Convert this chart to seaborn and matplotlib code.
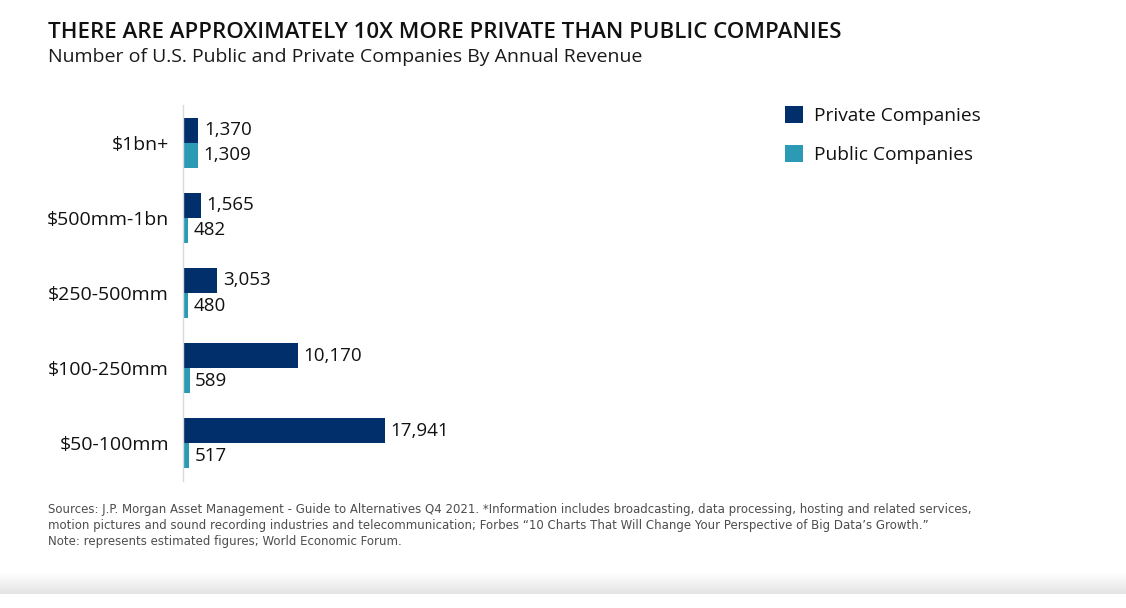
import numpy as np
import pandas as pd
import matplotlib
matplotlib.use("Agg")
import matplotlib.pyplot as plt
from matplotlib.patches import Patch
import seaborn as sns

categories = ['$1bn+', '$500mm-1bn', '$250-500mm', '$100-250mm', '$50-100mm']
private = [1370, 1565, 3053, 10170, 17941]
public = [1309, 482, 480, 589, 517]
series_names = ['Private Companies', 'Public Companies']
colors = ['#002F6C', '#2B9BB5']

title = "THERE ARE APPROXIMATELY 10X MORE PRIVATE THAN PUBLIC COMPANIES"
subtitle = "Number of U.S. Public and Private Companies By Annual Revenue"
footer = [
    "Sources: J.P. Morgan Asset Management - Guide to Alternatives Q4 2021. *Information includes broadcasting, data processing, hosting and related services,",
    "motion pictures and sound recording industries and telecommunication; Forbes \u201c10 Charts That Will Change Your Perspective of Big Data\u2019s Growth.\u201d",
    "Note: represents estimated figures; World Economic Forum.",
]

df = pd.DataFrame({
    'Revenue': categories * 2,
    'Count': private + public,
    'Type': [series_names[0]] * len(categories) + [series_names[1]] * len(categories),
})

sns.set_style('white')
plt.rcParams['font.family'] = ['Open Sans', 'DejaVu Sans']

W, H = 1126, 608
fig = plt.figure(figsize=(W / 100, H / 100), dpi=100)
fig.patch.set_facecolor('white')

# axes: left edge at x=183px, top 105px, bottom 481px
ax_left, ax_top, ax_bot = 183, 105, 481
ax_w = 600
ax = fig.add_axes([ax_left / W, 1 - ax_bot / H, ax_w / W, (ax_bot - ax_top) / H])

sns.barplot(data=df, y='Revenue', x='Count', hue='Type', orient='h',
            palette=colors, width=0.667, gap=0, saturation=1,
            linewidth=0, legend=False, ax=ax)

ax.set_xlim(0, 17941 * ax_w / 202)
ax.set_ylim(4.5, -0.5)
ax.set_xlabel('')
ax.set_ylabel('')
ax.set_xticks([])

for c in ax.containers:
    ax.bar_label(c, labels=[f'{v:,.0f}' for v in c.datavalues], padding=4,
                 fontsize=13.5, color='#111111')

ax.set_yticks(range(len(categories)))
ax.set_yticklabels(categories, fontsize=14, color='#111111')
ax.set_yticks(np.arange(-0.5, len(categories), 1.0), minor=True)
ax.tick_params(axis='y', which='major', length=0, pad=10)
ax.tick_params(axis='y', which='minor', length=3, width=1, color='#d9d9d9')

for side in ['top', 'right', 'bottom']:
    ax.spines[side].set_visible(False)
ax.spines['left'].set_color('#d9d9d9')
ax.spines['left'].set_linewidth(1)

# legend
handles = [Patch(facecolor=colors[0], edgecolor='none'),
           Patch(facecolor=colors[1], edgecolor='none')]
fig.legend(handles, series_names, loc='upper left',
           bbox_to_anchor=(785 / W, 1 - 106 / H), frameon=False,
           fontsize=13.8, handlelength=0.95, handleheight=0.95,
           handletextpad=0.55, labelspacing=1.07, borderpad=0, borderaxespad=0,
           labelcolor='#111111')

# titles
fig.text(48 / W, 1 - 33 / H, title, fontsize=16, fontweight='semibold',
         color='#111111', va='center', ha='left')
fig.text(48 / W, 1 - 57 / H, subtitle, fontsize=14, color='#1a1a1a',
         va='center', ha='left')

# footer
for i, line in enumerate(footer):
    fig.text(48 / W, 1 - (509 + 16 * i) / H, line, fontsize=8.5,
             family='DejaVu Sans', color='#4d4d4d', va='center', ha='left')

# light grey gradient band at the bottom
band = fig.add_axes([0, 1 - 594 / H, 1, 21 / H])
grad = np.linspace(0, 1, 64).reshape(-1, 1)
band.imshow(grad, aspect='auto', cmap=matplotlib.colors.LinearSegmentedColormap.from_list(
    'band', ['#ffffff', '#e4e4e4']), extent=[0, 1, 0, 1], origin='upper')
band.set_axis_off()

fig.savefig('out.png', dpi=100, facecolor='white')
